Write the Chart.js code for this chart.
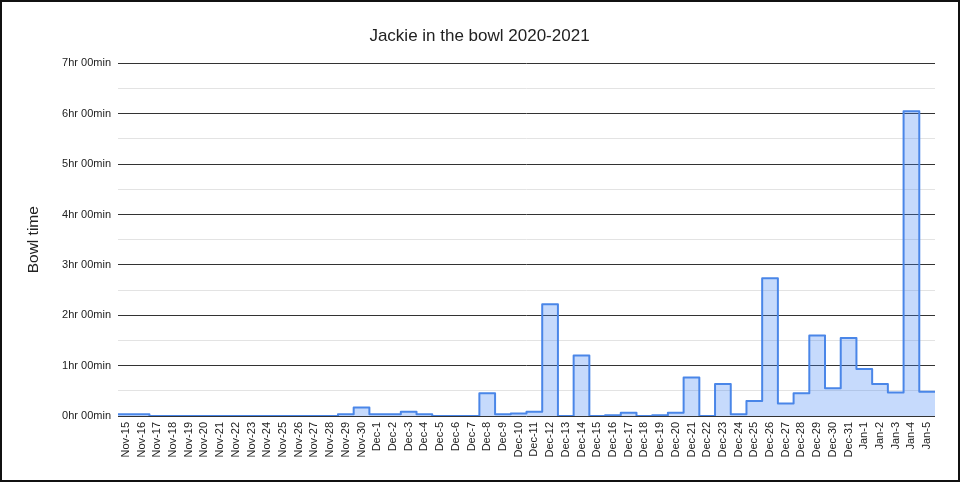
<!DOCTYPE html>
<html>
<head>
<meta charset="utf-8">
<script src="https://cdn.jsdelivr.net/npm/chart.js@4"></script>
<style>
  html, body { margin: 0; padding: 0; background: #fff; }
  #wrap { position: relative; width: 960px; height: 482px; }
  #frame { position: absolute; left: 0; top: 0; width: 960px; height: 482px; box-sizing: border-box; border: 2px solid #111; pointer-events: none; }
</style>
</head>
<body>
<div id="wrap">
  <canvas id="chart" width="960" height="482"></canvas>
  <div id="frame"></div>
</div>
<script>
const days = [
  'Nov-15', 'Nov-16', 'Nov-17', 'Nov-18', 'Nov-19', 'Nov-20', 'Nov-21', 'Nov-22',
  'Nov-23', 'Nov-24', 'Nov-25', 'Nov-26', 'Nov-27', 'Nov-28', 'Nov-29', 'Nov-30',
  'Dec-1', 'Dec-2', 'Dec-3', 'Dec-4', 'Dec-5', 'Dec-6', 'Dec-7', 'Dec-8',
  'Dec-9', 'Dec-10', 'Dec-11', 'Dec-12', 'Dec-13', 'Dec-14', 'Dec-15', 'Dec-16',
  'Dec-17', 'Dec-18', 'Dec-19', 'Dec-20', 'Dec-21', 'Dec-22', 'Dec-23', 'Dec-24',
  'Dec-25', 'Dec-26', 'Dec-27', 'Dec-28', 'Dec-29', 'Dec-30', 'Dec-31',
  'Jan-1', 'Jan-2', 'Jan-3', 'Jan-4', 'Jan-5'
];

// minutes in the bowl per day
const bowlMinutes = [
  2, 2, 0, 0, 0, 0, 0, 0,
  0, 0, 0, 0, 0, 0, 2, 10,
  2, 2, 5, 2, 0, 0, 0, 27,
  2, 3, 5, 133, 0, 72, 0, 1,
  4, 0, 1, 4, 46, 0, 38, 2,
  18, 164, 15, 27, 96, 33, 93,
  56, 38, 28, 363, 29
];

const hourTicks = [0, 60, 120, 180, 240, 300, 360, 420];

const fontFamily = '"Liberation Sans", Arial, sans-serif';

// each day fills its whole band: step starts at the left edge of the band
const points = bowlMinutes.map((m, i) => ({ x: i - 0.5, y: m }));
points.push({ x: bowlMinutes.length - 0.5, y: bowlMinutes[bowlMinutes.length - 1] });

new Chart(document.getElementById('chart'), {
  type: 'line',
  data: {
    datasets: [{
      label: 'Bowl time',
      data: points,
      stepped: 'before',
      fill: 'origin',
      borderColor: '#4a86e8',
      backgroundColor: 'rgba(66, 133, 244, 0.3)',
      borderWidth: 2,
      borderJoinStyle: 'round',
      pointRadius: 0
    }]
  },
  options: {
    responsive: false,
    animation: false,
    layout: { padding: { left: 24, right: 25, top: 0, bottom: 0 } },
    plugins: {
      legend: { display: false },
      tooltip: { enabled: false },
      title: {
        display: true,
        text: 'Jackie in the bowl 2020-2021',
        color: '#222',
        font: { family: fontFamily, size: 17, weight: 'normal' },
        padding: { top: 26, bottom: 17 }
      }
    },
    scales: {
      x: {
        type: 'linear',
        min: -0.5,
        max: days.length - 0.5,
        grid: { display: false, drawTicks: false },
        border: { display: false },
        afterBuildTicks: (scale) => {
          scale.ticks = days.map((d, i) => ({ value: i }));
        },
        afterFit: (scale) => { scale.height = 66; },
        ticks: {
          autoSkip: false,
          minRotation: 90,
          maxRotation: 90,
          padding: 6,
          color: '#222',
          font: { family: fontFamily, size: 11 },
          callback: (v) => days[v]
        }
      },
      y: {
        min: 0,
        max: 420,
        afterFit: (scale) => { scale.width = 94; },
        border: { display: false },
        grid: {
          drawTicks: false,
          lineWidth: 1,
          color: (ctx) => hourTicks.includes(ctx.tick.value) ? '#333' : '#e3e3e3'
        },
        title: {
          display: true,
          text: 'Bowl time',
          color: '#222',
          font: { family: fontFamily, size: 15.5 },
          padding: 0
        },
        ticks: {
          stepSize: 30,
          padding: 7,
          color: '#222',
          font: { family: fontFamily, size: 11 },
          callback: (v) => hourTicks.includes(v) ? (v / 60) + 'hr 00min' : ''
        }
      }
    }
  }
});
</script>
</body>
</html>
